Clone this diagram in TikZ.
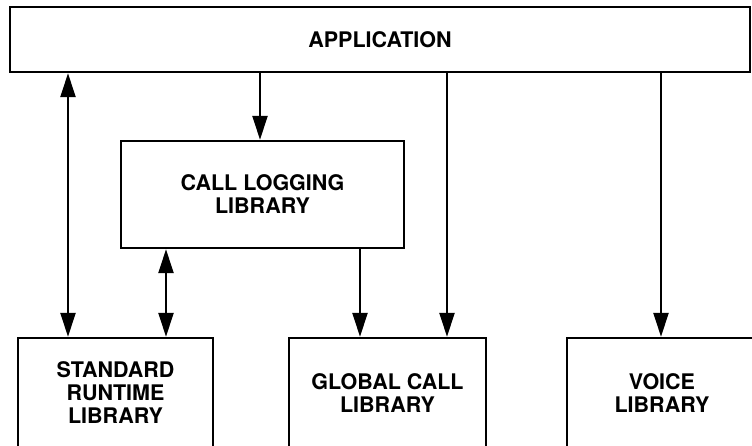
\documentclass[tikz,border=0pt]{standalone}
\usepackage{fontspec}
\setmainfont{TeX Gyre Heros}
\usepackage{tikz}
\usetikzlibrary{arrows.meta}

\begin{document}
\begin{tikzpicture}[x=1pt,y=-1pt,
    lib/.style={rectangle,draw,line width=2.4pt,inner sep=0pt,align=center,
      font=\fontsize{21.5}{23}\selectfont\bfseries},
    oneway/.style={line width=2.4pt,-{Triangle[length=24pt,width=15pt]}},
    twoway/.style={line width=2.4pt,{Triangle[length=24pt,width=15pt]}-{Triangle[length=24pt,width=15pt]}}]

\useasboundingbox (0,0) rectangle (752,445);
\clip (0,0) rectangle (752,445);

\node[lib,minimum width=740pt,minimum height=65pt] (app) at (380,39.5) {APPLICATION};
\node[lib,minimum width=283pt,minimum height=107pt] (logging) at (262.5,194.5) {CALL LOGGING\\LIBRARY};
\node[lib,minimum width=195pt,minimum height=110pt] (runtime) at (115.5,393) {STANDARD\\RUNTIME\\LIBRARY};
\node[lib,minimum width=197pt,minimum height=110pt] (gcall) at (387.5,393) {GLOBAL CALL\\LIBRARY};
\node[lib,minimum width=190pt,minimum height=110pt] (voice) at (662,393) {VOICE\\LIBRARY};

% x positions of the connectors
\coordinate (xa) at (68,0);
\coordinate (xb) at (260,0);
\coordinate (xc) at (166,0);
\coordinate (xd) at (360,0);
\coordinate (xe) at (447,0);
\coordinate (xf) at (661,0);

\draw[twoway] (app.south -| xa) -- (runtime.north -| xa);
\draw[oneway] (app.south -| xb) -- (logging.north -| xb);
\draw[twoway] (logging.south -| xc) -- (runtime.north -| xc);
\draw[oneway] (logging.south -| xd) -- (gcall.north -| xd);
\draw[oneway] (app.south -| xe) -- (gcall.north -| xe);
\draw[oneway] (app.south -| xf) -- (voice.north -| xf);
\end{tikzpicture}
\end{document}
